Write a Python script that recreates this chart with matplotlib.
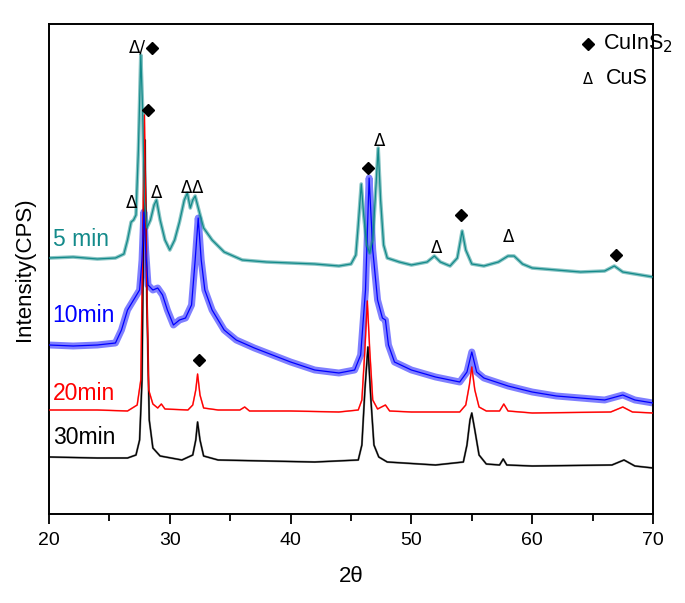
import matplotlib
matplotlib.use("Agg")
import matplotlib.pyplot as plt
import matplotlib.ticker as ticker

# ── Data (2θ, intensity in arbitrary counts) ─────────────────────────────────
x_5min = [20.0, 22, 24, 25.5, 26.2, 26.5, 26.8, 27.0, 27.2, 27.4, 27.6, 27.75, 27.9,
          28.1, 28.4, 28.7, 28.9, 29.2, 29.6, 30.0, 30.4, 30.8, 31.2, 31.45, 31.7,
          31.9, 32.1, 32.4, 32.8, 33.5, 34.5, 36, 38, 40, 42, 44, 45.0, 45.4, 45.6,
          45.85, 46.05, 46.3, 46.55, 46.8, 47.0, 47.25, 47.45, 47.7, 48.0, 49, 50,
          51.3, 51.9, 52.4, 53.2, 53.8, 54.2, 54.5, 55.0, 56, 57.2, 58.0, 58.5, 59.2,
          60, 62, 64, 66, 66.8, 67.5, 69, 70]
y_5min = [256, 257, 255, 256, 260, 274, 292, 294, 299, 364, 459, 404, 314,
          286, 294, 309, 314, 294, 274, 264, 274, 292, 314, 321, 306,
          314, 318, 304, 286, 274, 262, 254, 252, 251, 250, 248, 250, 259, 289,
          330, 299, 269, 261, 274, 314, 366, 314, 269, 256, 252, 249,
          252, 258, 252, 248, 256, 283, 264, 250, 248, 252, 258, 258, 250,
          246, 244, 242, 243, 248, 242, 239, 237]

x_10min = [20, 22, 24, 25.5, 26.0, 26.5, 27.0, 27.5, 27.7, 27.85, 28.0, 28.2, 28.6,
           29.0, 29.4, 29.8, 30.3, 30.8, 31.3, 31.8, 32.1, 32.35, 32.6, 32.9, 33.5,
           34.5, 35.5, 37, 38.5, 40, 42, 44, 45.3, 45.8, 46.2, 46.5, 46.8, 47.2,
           47.6, 47.85, 48.1, 48.6, 50, 52, 54, 54.6, 55.0, 55.4, 56, 58, 60, 62,
           64, 66, 67.5, 68.5, 70]
y_10min = [169, 168, 169, 171, 184, 204, 214, 224, 254, 302, 264, 229, 224,
           226, 219, 204, 189, 194, 196, 209, 254, 296, 254, 224, 204,
           184, 174, 166, 159, 152, 144, 141, 144, 159, 224, 336, 264, 214,
           196, 194, 169, 152, 144, 137, 132, 142, 162, 142, 136, 128, 122, 118,
           116, 114, 119, 114, 111]

x_20min = [20, 24, 26.5, 27.3, 27.6, 27.75, 27.9, 28.05, 28.25, 28.6, 29.0, 29.3,
           29.6, 31.5, 31.9, 32.15, 32.3, 32.5, 32.8, 34, 35.8, 36.2, 36.6, 40, 44,
           45.6, 45.9, 46.15, 46.35, 46.55, 46.8, 47.2, 47.85, 48.2, 50, 54, 54.5,
           54.8, 55.0, 55.25, 55.6, 56.2, 57.3, 57.65, 58.0, 60, 66.5, 67.5, 68.3, 70]
y_20min = [104, 104, 103, 109, 134, 264, 399, 264, 124, 110, 106, 110,
           105, 104, 109, 124, 140, 119, 106, 104, 104, 107, 103, 103, 102,
           104, 114, 164, 213, 164, 114, 105, 109, 103, 102, 102, 109,
           129, 147, 124, 107, 103, 103, 110, 103, 101, 102, 107, 102, 101]

x_30min = [20, 24, 26.5, 27.2, 27.5, 27.7, 27.85, 27.95, 28.1, 28.3, 28.6, 29.2, 31,
           31.9, 32.15, 32.3, 32.5, 32.8, 34, 38, 42, 45.6, 45.9, 46.15, 46.4, 46.65,
           46.9, 47.3, 48, 52, 54.3, 54.6, 54.85, 55.0, 55.25, 55.6, 56.2, 57.3,
           57.6, 57.9, 60, 66.6, 67.6, 68.5, 70]
y_30min = [57, 56, 56, 59, 74, 134, 314, 374, 214, 94, 66, 58, 54,
           59, 74, 92, 74, 58, 54, 53, 52, 54, 69, 124, 167, 114,
           69, 57, 52, 49, 52, 69, 94, 101, 84, 59, 50, 49,
           55, 49, 48, 49, 54, 48, 46]

# ── Peak markers: (2θ, height) ───────────────────────────────────────────────
cus_marks = [(26.87, 311), (28.94, 321), (31.38, 326), (32.3, 326),
             (47.4, 373), (52.12, 266), (58.08, 277)]
cuins2_marks = [(28.53, 466), (28.2, 404), (46.41, 346), (54.1, 299),
                (66.94, 259), (32.42, 154)]
mixed_mark = (27.28, 466)   # "Δ/" label on the main 5 min peak

x_ticks = [20, 30, 40, 50, 60, 70]

# ── Style ────────────────────────────────────────────────────────────────────
TEAL = "#138a8a"
SERIES = [
    # x, y, colour, line width, noise band width, label, label height
    (x_30min, y_30min, "black",   0.9, 1.5, "30min", 77),
    (x_20min, y_20min, "#ff0000", 0.9, 1.2, "20min", 121),
    (x_10min, y_10min, "#0000ff", 0.9, 5.0, "10min", 199),
    (x_5min,  y_5min,  TEAL,      0.9, 2.6, "5 min", 275),
]

plt.rcParams["font.family"] = ["Liberation Sans", "DejaVu Sans"]

fig = plt.figure(figsize=(6.85, 6.03), dpi=100, facecolor="white")
ax = fig.add_axes([49 / 685, 1 - 514 / 603, 604 / 685, 490 / 603])

for xs, ys, col, lw, band, lab, ly in SERIES:
    # translucent band stands in for the counting noise of the raw scan
    ax.plot(xs, ys, color=col, lw=band, alpha=0.5, solid_joinstyle="round", zorder=2)
    ax.plot(xs, ys, color=col, lw=lw, zorder=3)
    ax.text(20.3, ly, lab, color=col, fontsize=16.5, ha="left", va="center", zorder=4)

# annotations
for x, y in cus_marks:
    ax.text(x, y, "Δ", fontsize=12, ha="center", va="center", family="DejaVu Sans", zorder=5)
ax.text(mixed_mark[0], mixed_mark[1], "Δ/", fontsize=12, ha="center", va="center",
        family="DejaVu Sans", zorder=5)
ax.plot([m[0] for m in cuins2_marks], [m[1] for m in cuins2_marks], ls="none",
        marker="D", ms=6.5, color="black", zorder=5)

# legend (drawn by hand, as in the original)
ax.plot([64.65], [470], ls="none", marker="D", ms=6, color="black")
ax.text(65.85, 470, "CuInS$_2$", fontsize=15.5, ha="left", va="center")
ax.text(64.6, 435, "Δ", fontsize=10.5, ha="center", va="center", family="DejaVu Sans")
ax.text(66.1, 435, "CuS", fontsize=15.5, ha="left", va="center")

# axes
ax.set_xlim(20, 70)
ax.set_ylim(0, 490)
ax.set_xticks(x_ticks)
ax.xaxis.set_minor_locator(ticker.MultipleLocator(5))
ax.tick_params(axis="x", which="major", direction="out", length=7, width=1.3,
               labelsize=14, pad=6)
ax.tick_params(axis="x", which="minor", direction="out", length=5, width=1.3)
ax.tick_params(axis="y", left=False, labelleft=False)
for sp in ax.spines.values():
    sp.set_linewidth(1.4)

ax.set_xlabel("2θ", fontsize=16, labelpad=12)
ax.set_ylabel("Intensity(CPS)", fontsize=16, labelpad=10)

fig.savefig("out.png", dpi=100)
